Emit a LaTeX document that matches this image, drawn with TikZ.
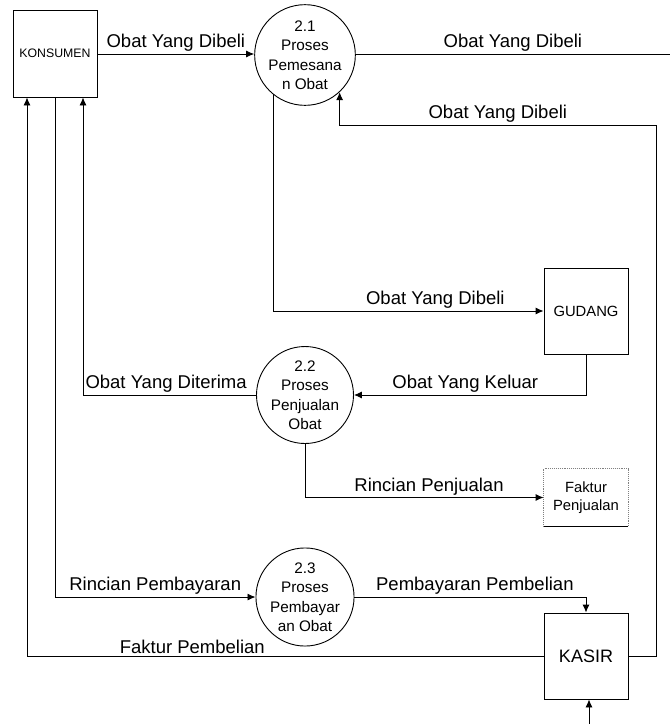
\documentclass[tikz,border=0pt]{standalone}
\usepackage{fontspec}
\setmainfont{Liberation Sans}
\usetikzlibrary{arrows.meta, positioning}

\begin{document}
\begin{tikzpicture}[x=1pt, y=-1pt, >={Latex[length=8pt, width=7pt]}, line width=0.9pt,
	entitas/.style={draw, rectangle, minimum width=84pt, minimum height=86pt, inner sep=0pt},
	proses/.style={draw, circle, minimum size=84pt, inner sep=0pt, align=center,
		font=\fontsize{15.3}{19.5}\selectfont},
	lbl/.style={above, inner sep=2pt, font=\fontsize{18.5}{22}\selectfont}]
	\useasboundingbox (0, 0) rectangle (670, 724);

	\node[entitas, minimum height=87pt, font=\fontsize{12.3}{14}\selectfont] at (55, 53.5) (konsumen) {KONSUMEN};
	\node[proses] at (305, 55) (p21) {2.1\\Proses\\Pemesana\\n Obat};
	\node[entitas, font=\fontsize{14.8}{17}\selectfont] at (586, 311) (gudang) {GUDANG};
	\node[proses] at (305, 395) (p22) {2.2\\Proses\\Penjualan\\Obat};
	\node[minimum width=84pt, minimum height=57pt, inner sep=0pt, align=center,
		font=\fontsize{14.8}{18}\selectfont] at (586, 497.5) (faktur) {Faktur\\Penjualan};
	\node[proses, minimum size=86pt] at (305, 597) (p23) {2.3\\Proses\\Pembayar\\an Obat};
	\node[entitas, font=\fontsize{18}{20}\selectfont] at (586, 656) (kasir) {KASIR};

	\coordinate (keluar) at (670, 54);
	\coordinate (balik) at (656, 125);
	\coordinate (masuk) at (589, 724);

	% faktur penjualan: garis putus di tiga sisi
	\draw[densely dotted, gray] (faktur.south west) -- (faktur.north west) -- (faktur.north east) -- (faktur.south east);
	\draw (faktur.south west) -- (faktur.south east);

	\draw[->] (konsumen.east |- 0, 54) -- (p21.west |- 0, 54) node[lbl, midway] {Obat Yang Dibeli};
	\draw (p21.east |- 0, 54) -- (keluar) node[lbl, midway] {Obat Yang Dibeli};
	\draw[->] (kasir.east) -| (balik) -- (balik -| p21.-47) node[lbl, midway] {Obat Yang Dibeli} -- (p21.-47);
	\draw[->] (p21.-129) |- (gudang.west) node[lbl, pos=0.8] {Obat Yang Dibeli};
	\draw[->] (gudang.south) |- (p22.east) node[lbl, pos=0.76] {Obat Yang Keluar};
	\draw[->] (p22.west) -| ([xshift=28pt]konsumen.south) node[lbl, pos=0.26] {Obat Yang Diterima};
	\draw[->] (p22.south) |- (faktur.west) node[lbl, pos=0.76] {Rincian Penjualan};
	\draw[->] (konsumen.south) |- (p23.west) node[lbl, pos=0.75] {Rincian Pembayaran};
	\draw[->] (p23.east) -| (kasir.north) node[lbl, pos=0.26] {Pembayaran Pembelian};
	\draw[->] (kasir.west) -| ([xshift=-28pt]konsumen.south) node[lbl, pos=0.34] {Faktur Pembelian};
	\draw[->] (masuk) -- (masuk |- kasir.south);
\end{tikzpicture}
\end{document}
